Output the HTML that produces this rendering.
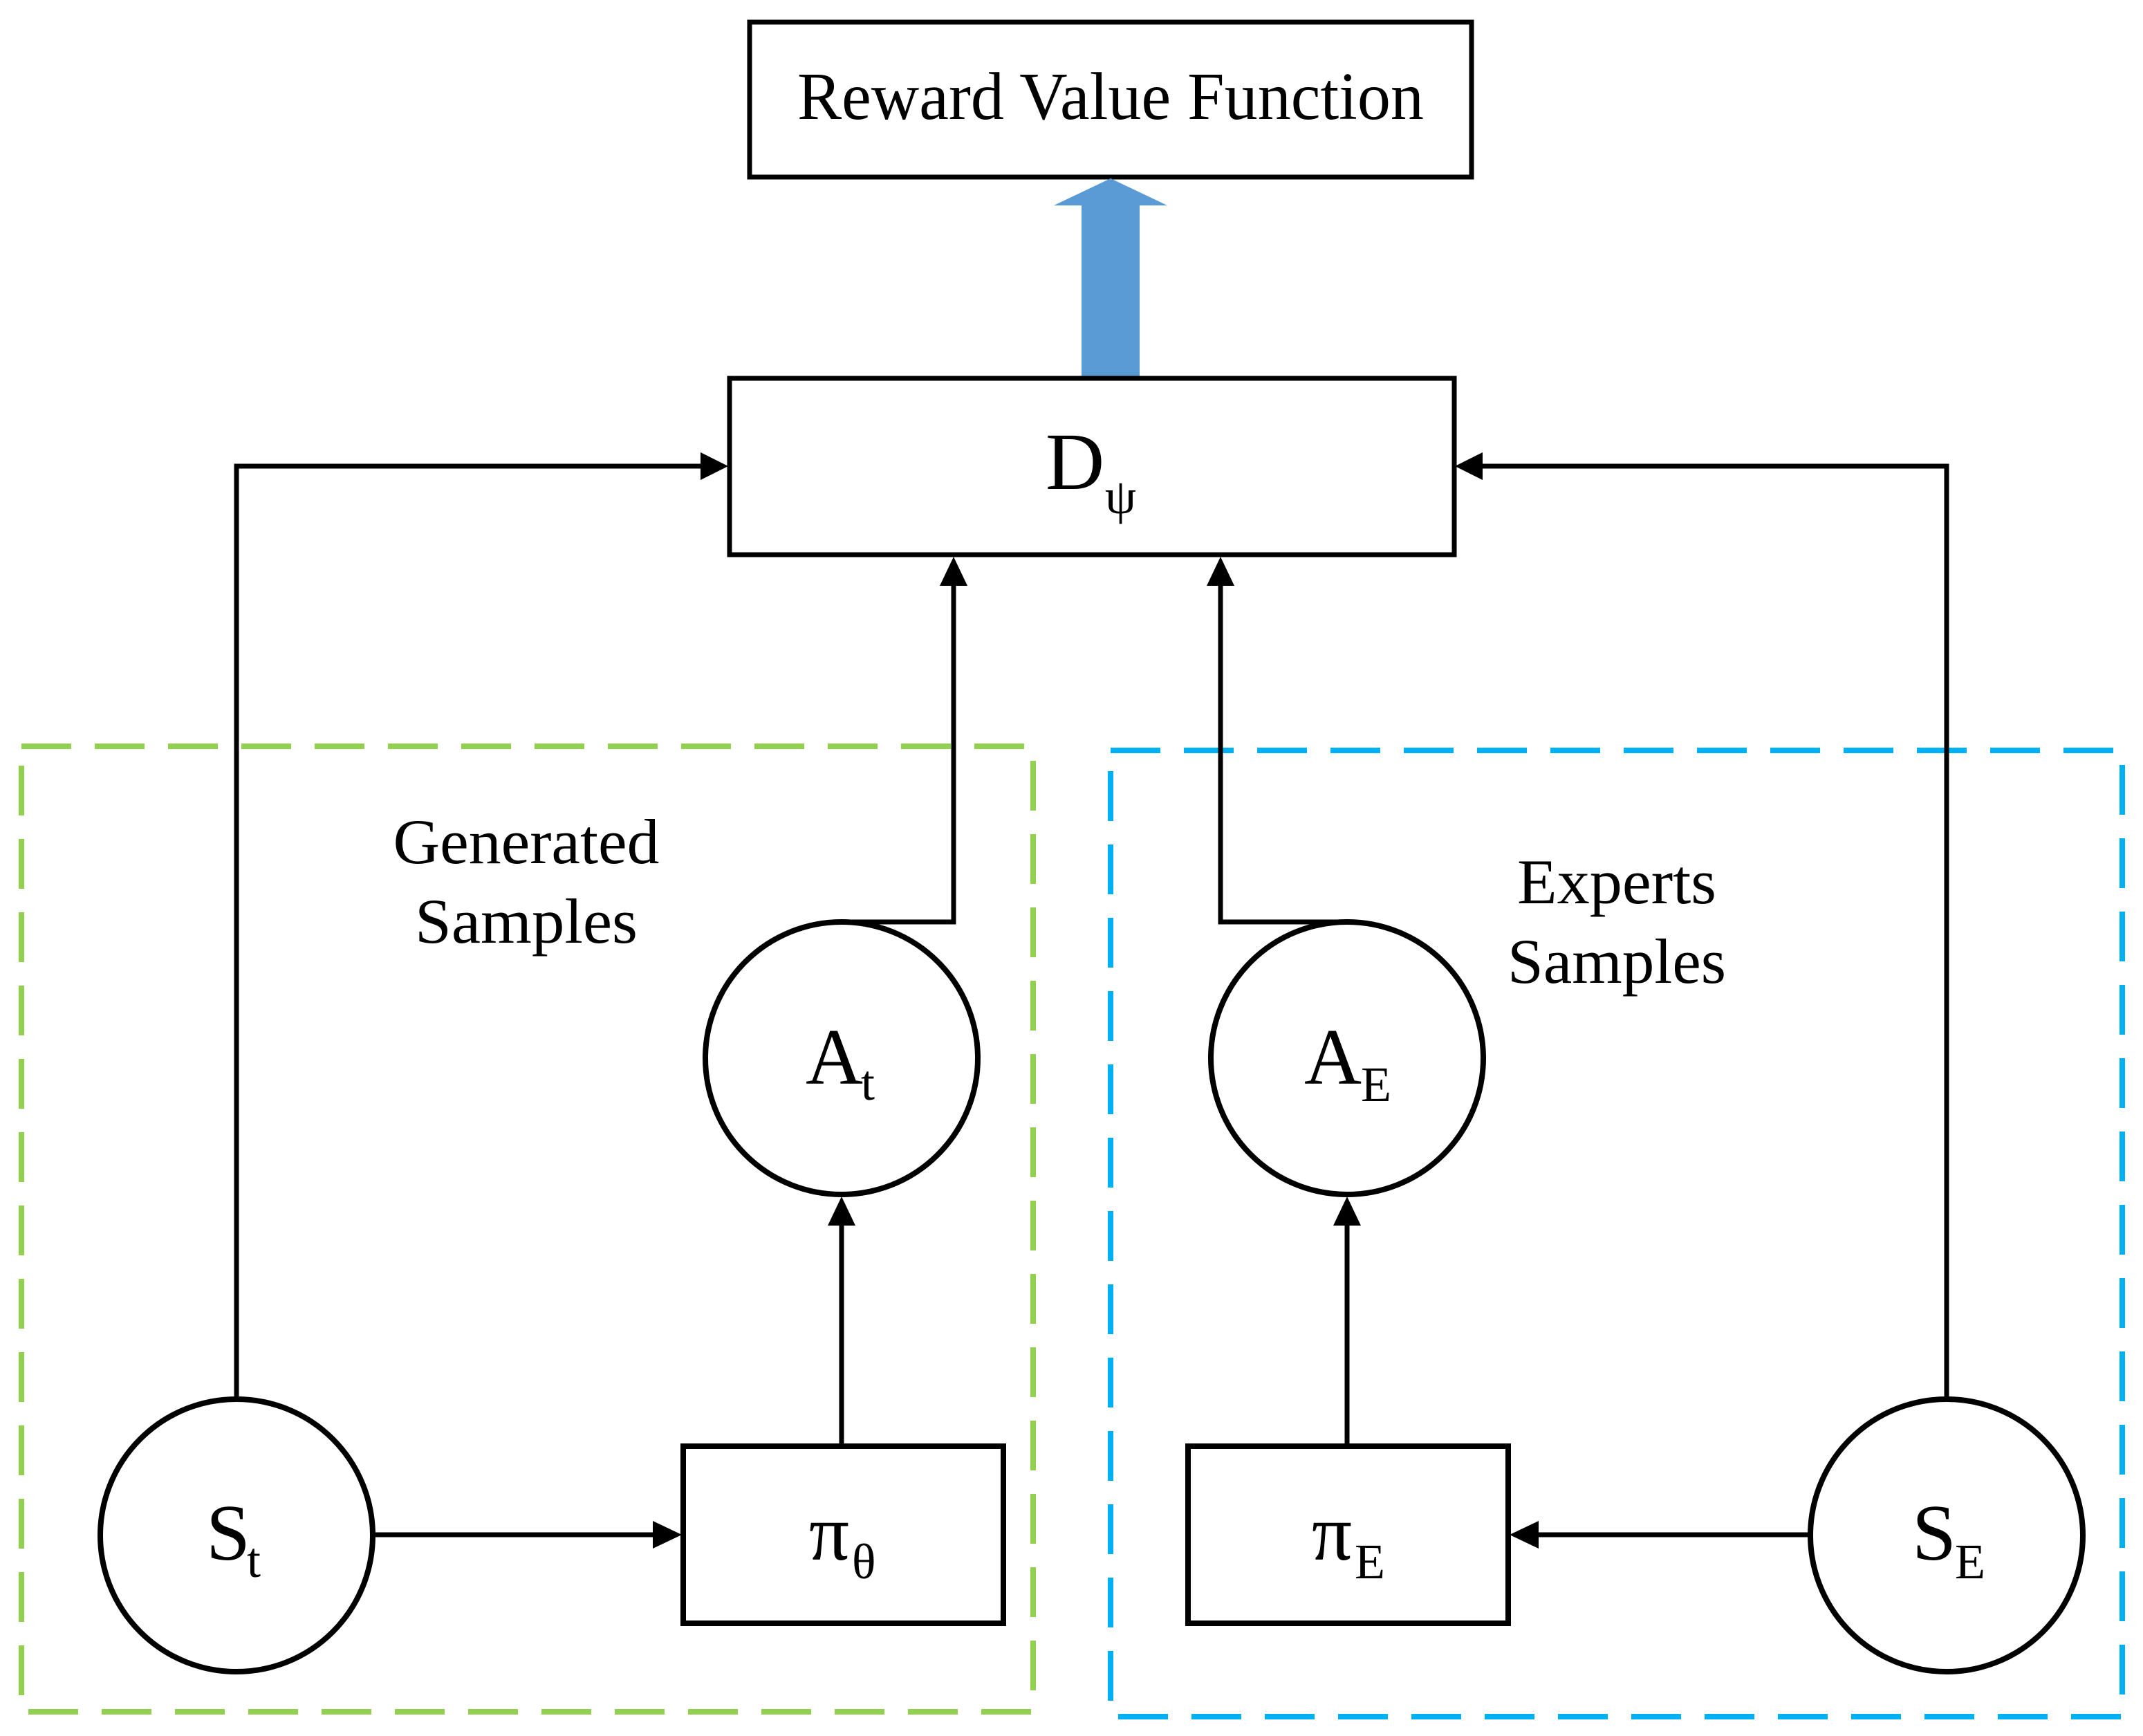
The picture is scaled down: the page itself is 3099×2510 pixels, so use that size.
<!DOCTYPE html>
<html><head><meta charset="utf-8"><style>html,body{margin:0;padding:0;background:#fff}svg{display:block}</style></head>
<body>
<svg width="3099" height="2510" viewBox="0 0 3099 2510" xmlns="http://www.w3.org/2000/svg" font-family="'Liberation Serif', serif">
<rect width="3099" height="2510" fill="#fff"/>
<rect x="31" y="1079" width="1463" height="1396" fill="none" stroke="#92d050" stroke-width="8" stroke-dasharray="72,34"/>
<rect x="1606" y="1085" width="1463" height="1397" fill="none" stroke="#00b0f0" stroke-width="8" stroke-dasharray="72,34"/>
<rect x="1084" y="32" width="1044" height="224" fill="#fff" stroke="#000" stroke-width="7"/>
<text x="1606" y="172" font-size="98" text-anchor="middle" textLength="906" lengthAdjust="spacingAndGlyphs">Reward Value Function</text>
<polygon points="1606,258 1688,297 1648,297 1648,545 1564,545 1564,297 1524,297" fill="#5b9bd5"/>
<rect x="1055" y="547" width="1048" height="255" fill="#fff" stroke="#000" stroke-width="7"/>
<text x="1512" y="707" font-size="118">D</text>
<text x="1598" y="742" font-size="72">ψ</text>
<g stroke="#000" stroke-width="7" fill="none">
<polyline points="342,2023 342,674 1020,674"/>
<polyline points="2815,2023 2815,674 2140,674"/>
<polyline points="1217,1333 1379,1333 1379,840"/>
<polyline points="1948,1333 1765,1333 1765,840"/>
<line x1="1217" y1="2089" x2="1217" y2="1765"/>
<line x1="1948" y1="2089" x2="1948" y2="1765"/>
<line x1="540" y1="2219" x2="950" y2="2219"/>
<line x1="2617" y1="2219" x2="2218" y2="2219"/>
<circle cx="1217" cy="1530" r="197" stroke-width="8" fill="#fff"/>
<circle cx="1948" cy="1530" r="197" stroke-width="8" fill="#fff"/>
<circle cx="342" cy="2220" r="197" stroke-width="8" fill="#fff"/>
<circle cx="2815" cy="2220" r="197" stroke-width="8" fill="#fff"/>
<rect x="988" y="2091" width="463" height="256" stroke-width="8" fill="#fff"/>
<rect x="1718" y="2091" width="463" height="256" stroke-width="8" fill="#fff"/>
</g>
<g fill="#000">
<polygon points="1053,674 1013,654 1013,694"/>
<polygon points="2104,674 2144,654 2144,694"/>
<polygon points="1379,805 1359,847 1399,847"/>
<polygon points="1765,805 1745,847 1785,847"/>
<polygon points="1217,1730 1197,1772 1237,1772"/>
<polygon points="1948,1730 1928,1772 1968,1772"/>
<polygon points="986,2219 944,2199 944,2239"/>
<polygon points="2183,2219 2225,2199 2225,2239"/>
</g>
<g font-size="92" text-anchor="middle">
<text x="761" y="1248" textLength="385" lengthAdjust="spacingAndGlyphs">Generated</text>
<text x="761" y="1363" textLength="322" lengthAdjust="spacingAndGlyphs">Samples</text>
<text x="2338" y="1306" textLength="288" lengthAdjust="spacingAndGlyphs">Experts</text>
<text x="2338" y="1421" textLength="316" lengthAdjust="spacingAndGlyphs">Samples</text>
</g>
<g font-size="115">
<text x="1165" y="1567">A</text><text x="1245" y="1590" font-size="72">t</text>
<text x="1886" y="1567">A</text><text x="1968" y="1592" font-size="72">E</text>
<text x="298" y="2255">S</text><text x="357" y="2280" font-size="72">t</text>
<text x="2765" y="2255">S</text><text x="2827" y="2282" font-size="72">E</text>
<text x="1170" y="2255">π</text><text x="1232" y="2282" font-size="72">θ</text>
<text x="1897" y="2255">π</text><text x="1959" y="2282" font-size="72">E</text>
</g>
</svg>
</body></html>
